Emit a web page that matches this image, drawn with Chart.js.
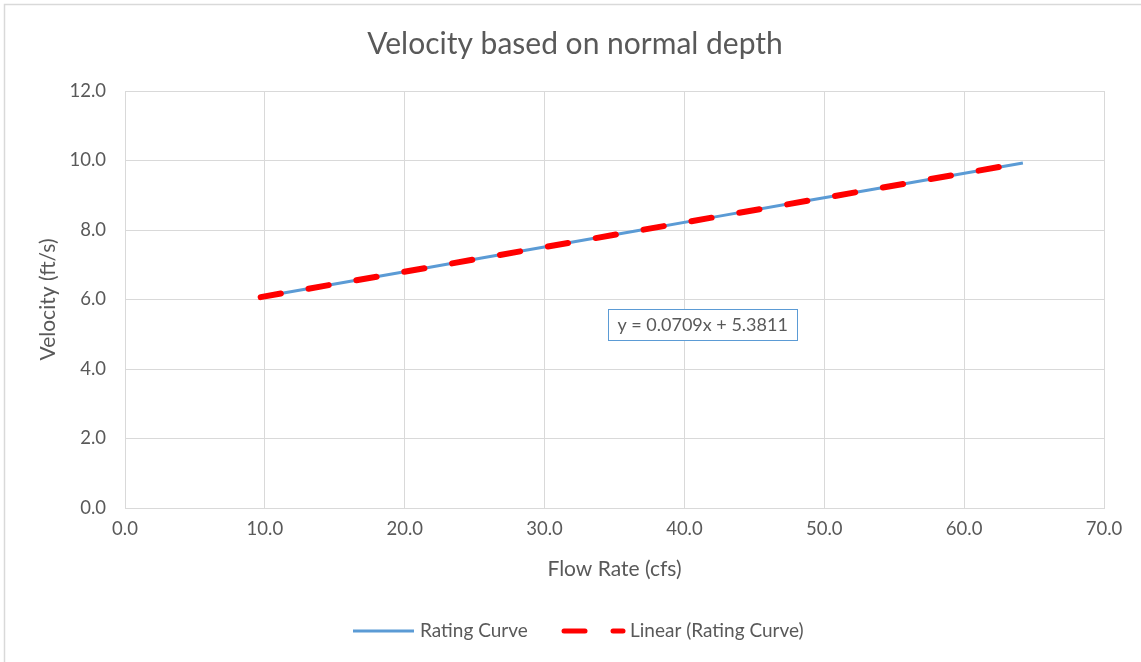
<!DOCTYPE html>
<html>
<head>
<meta charset="utf-8">
<script src="https://cdn.jsdelivr.net/npm/chart.js@4"></script>
<style>
  html, body { margin: 0; padding: 0; background: #fff; }
  #wrap { width: 1141px; height: 662px; }
</style>
</head>
<body>
<div id="wrap"><canvas id="grafico" width="1141" height="662"></canvas></div>
<script>
// datos
const flowRate = [9.7, 14.8, 20.4, 25.6, 31.0, 36.5, 42.1, 47.6, 53.2, 58.7, 64.2];
const velocity = [6.07, 6.43, 6.83, 7.20, 7.58, 7.97, 8.37, 8.76, 9.15, 9.54, 9.93];
const trendSlope = 0.0709;
const trendIntercept = 5.3811;
const trendLabel = 'y = 0.0709x + 5.3811';
const xTicks = [0, 10, 20, 30, 40, 50, 60, 70];
const yTicks = [0, 2, 4, 6, 8, 10, 12];

const gris = '#595959';
const fuente = 'Lato, "Open Sans", sans-serif';

// linea de tendencia: extremos del rango de datos
const xMin = Math.min(...flowRate);
const xMax = Math.max(...flowRate);
const trendPts = [xMin, xMax].map(x => ({ x: x, y: trendSlope * x + trendIntercept }));

const textos = {
  id: 'textos',
  afterDraw(chart) {
    const ctx = chart.ctx;
    const area = chart.chartArea;
    ctx.save();
    // borde exterior (recortado abajo y a la derecha)
    ctx.strokeStyle = '#d9d9d9';
    ctx.lineWidth = 1.5;
    ctx.strokeRect(4.5, 4.5, 1200, 700);

    ctx.fillStyle = gris;
    ctx.textAlign = 'center';
    ctx.textBaseline = 'middle';
    ctx.font = '30px ' + fuente;
    ctx.fillText('Velocity based on normal depth', 575, 44);

    ctx.font = '21px ' + fuente;
    ctx.fillText('Flow Rate (cfs)', (area.left + area.right) / 2, 569);
    ctx.save();
    ctx.translate(48, (area.top + area.bottom) / 2);
    ctx.rotate(-Math.PI / 2);
    ctx.fillText('Velocity (ft/s)', 0, 0);
    ctx.restore();

    // etiqueta de la ecuacion
    const xs = chart.scales.x, ys = chart.scales.y;
    const cx = xs.getPixelForValue(41.3), cy = ys.getPixelForValue(5.28);
    ctx.font = '18px ' + fuente;
    const w = 189;
    ctx.fillStyle = '#fff';
    ctx.fillRect(cx - w / 2, cy - 15.5, w, 31);
    ctx.strokeStyle = '#5b9bd5';
    ctx.lineWidth = 1;
    ctx.strokeRect(Math.round(cx - w / 2) + 0.5, Math.round(cy - 15.5) + 0.5, w, 31);
    ctx.fillStyle = gris;
    ctx.fillText(trendLabel, cx, cy + 1);

    // leyenda
    const ly = 631;
    ctx.lineCap = 'butt';
    ctx.strokeStyle = '#5b9bd5';
    ctx.lineWidth = 3;
    ctx.beginPath(); ctx.moveTo(353, ly); ctx.lineTo(414, ly); ctx.stroke();
    ctx.strokeStyle = '#ff0000';
    ctx.lineWidth = 5;
    ctx.lineCap = 'round';
    ctx.beginPath(); ctx.moveTo(564, ly); ctx.lineTo(585, ly); ctx.stroke();
    ctx.beginPath(); ctx.moveTo(613, ly); ctx.lineTo(623, ly); ctx.stroke();
    ctx.fillStyle = gris;
    ctx.textAlign = 'left';
    ctx.font = '19px ' + fuente;
    ctx.fillText('Rating Curve', 420, ly);
    ctx.fillText('Linear (Rating Curve)', 630, ly);
    ctx.restore();
  }
};

new Chart(document.getElementById('grafico').getContext('2d'), {
  type: 'scatter',
  data: {
    datasets: [
      {
        label: 'Rating Curve',
        data: flowRate.map((x, i) => ({ x: x, y: velocity[i] })),
        showLine: true,
        borderColor: '#5b9bd5',
        borderWidth: 3,
        pointRadius: 0,
        tension: 0,
        order: 2
      },
      {
        label: 'Linear (Rating Curve)',
        data: trendPts,
        showLine: true,
        borderColor: '#ff0000',
        borderWidth: 6,
        borderDash: [20.5, 28.1],
        borderCapStyle: 'round',
        pointRadius: 0,
        order: 1
      }
    ]
  },
  plugins: [textos],
  options: {
    responsive: false,
    animation: false,
    layout: { padding: { left: 10, right: 37, top: 91, bottom: 0 } },
    plugins: {
      legend: { display: false },
      tooltip: { enabled: false }
    },
    scales: {
      x: {
        type: 'linear',
        min: 0, max: 70,
        afterBuildTicks: s => { s.ticks = xTicks.map(v => ({ value: v })); },
        afterFit: s => { s.height = 154; },
        grid: { color: '#d9d9d9', drawTicks: false },
        border: { color: '#d9d9d9' },
        ticks: {
          color: gris, padding: 10,
          font: { family: fuente, size: 18.5 },
          callback: v => v.toFixed(1)
        }
      },
      y: {
        min: 0, max: 12,
        afterBuildTicks: s => { s.ticks = yTicks.map(v => ({ value: v })); },
        afterFit: s => { s.width = 115; },
        grid: { color: '#d9d9d9', drawTicks: false },
        border: { color: '#d9d9d9' },
        ticks: {
          color: gris, padding: 19,
          font: { family: fuente, size: 18.5 },
          callback: v => v.toFixed(1)
        }
      }
    }
  }
});
</script>
</body>
</html>
